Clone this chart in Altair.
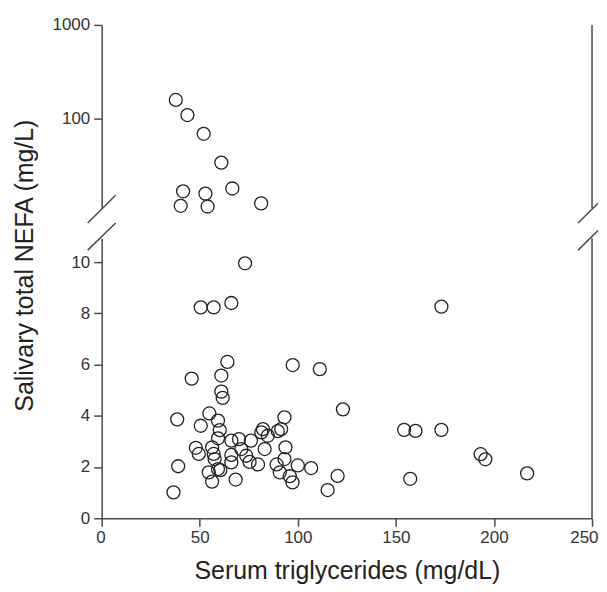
import altair as alt
import pandas as pd

# ---- data ----
top_x = [37.8, 43.7, 52.0, 61.0, 41.5, 40.3, 52.9, 54.0, 66.6, 81.3]
top_y = [158, 109, 68.7, 33.8, 16.7, 11.7, 15.8, 11.5, 17.9, 12.4]

bot_x = [73.1, 50.5, 57.1, 66.1, 173.2, 45.9, 64.1, 61.0, 61.0, 61.7,
         97.4, 111.2, 123.0, 38.5, 54.9, 50.5, 59.3, 60.2, 59.3, 48.0,
         49.5, 39.0, 36.6, 54.6, 56.3, 59.3, 60.5, 56.3, 57.1, 57.6,
         66.1, 70.0, 66.1, 66.1, 68.3, 71.2, 73.7, 75.4, 76.1, 79.7,
         81.4, 82.2, 84.7, 83.1, 89.8, 91.5, 93.2, 93.7, 93.2, 89.2,
         90.8, 95.9, 97.3, 100.0, 106.8, 154.2, 160.0, 173.2, 193.2, 195.6,
         216.9, 157.3, 120.3, 115.2]
bot_y = [9.95, 8.23, 8.23, 8.40, 8.26, 5.45, 6.10, 5.57, 4.94, 4.70,
         5.98, 5.82, 4.25, 3.86, 4.09, 3.61, 3.81, 3.44, 3.12, 2.75,
         2.51, 2.03, 1.01, 1.79, 1.43, 1.92, 1.88, 2.77, 2.51, 2.31,
         3.03, 3.09, 2.47, 2.18, 1.51, 2.70, 2.44, 2.20, 3.03, 2.10,
         3.35, 3.48, 3.22, 2.70, 3.40, 3.48, 3.94, 2.77, 2.31, 2.10,
         1.79, 1.64, 1.40, 2.06, 1.96, 3.45, 3.41, 3.45, 2.50, 2.30,
         1.75, 1.54, 1.65, 1.10]

x_ticks = [0, 50, 100, 150, 200, 250]
y_ticks_bottom = [0, 2, 4, 6, 8, 10]
y_ticks_top = [100, 1000]

# ---- layout / style ----
W = 492
H_TOP = 184
H_BOT = 281
FONT = "Liberation Sans"
AX = "#4a4a4a"
PT = "#222222"

top_df = pd.DataFrame({"tg": top_x, "nefa": top_y})
bot_df = pd.DataFrame({"tg": bot_x, "nefa": bot_y})

xscale = alt.Scale(domain=[0, 250], nice=False, zero=False)

def yaxis(values, fmt=None, **kw):
    args = dict(values=values, grid=False, tickSize=8, tickWidth=1.5, tickColor=AX,
                domainColor=AX, domainWidth=1.5, labelFont=FONT, labelFontSize=17,
                labelColor="#333333", labelPadding=4, labelOverlap=False)
    if fmt:
        args["format"] = fmt
    args.update(kw)
    return alt.Axis(**args)

point_kw = dict(shape="circle", filled=False, size=170, strokeWidth=1.3, color=PT, opacity=1)

top_pts = alt.Chart(top_df).mark_point(**point_kw).encode(
    x=alt.X("tg:Q", scale=xscale, axis=None),
    y=alt.Y("nefa:Q", scale=alt.Scale(type="log", domain=[11, 1000], nice=False),
            axis=yaxis(y_ticks_top, fmt="d", title=None)),
)
one = pd.DataFrame({"a": [0]})
top_right = alt.Chart(one).mark_rule(color=AX, strokeWidth=1.5).encode(
    x=alt.value(W), y=alt.value(0), y2=alt.value(H_TOP))
top = alt.layer(top_pts, top_right).properties(width=W, height=H_TOP)

bot_pts = alt.Chart(bot_df).mark_point(**point_kw).encode(
    x=alt.X("tg:Q", scale=xscale,
            axis=alt.Axis(values=x_ticks, grid=False, tickSize=8, tickWidth=1.5, tickColor=AX,
                          domainColor=AX, domainWidth=1.5, labelFont=FONT, labelFontSize=17,
                          labelColor="#333333", labelPadding=3, labelFlush=True,
                          labelFlushOffset=6, labelOverlap=False,
                          title="Serum triglycerides (mg/dL)", titleFont=FONT,
                          titleFontSize=25, titleFontWeight="normal", titleColor="#222222",
                          titleBaseline="alphabetic", titleY=60)),
    y=alt.Y("nefa:Q", scale=alt.Scale(domain=[0, 10.93], nice=False, zero=False),
            axis=yaxis(y_ticks_bottom, title="Salivary total NEFA (mg/L)", titleFont=FONT,
                       titleFontSize=25, titleFontWeight="normal", titleColor="#222222",
                       titleBaseline="alphabetic", titleX=-69, titleY=27)),
)
bot_right = alt.Chart(one).mark_rule(color=AX, strokeWidth=1.5).encode(
    x=alt.value(W), y=alt.value(0), y2=alt.value(H_BOT))

# axis-break slashes (decoration, pixel offsets in the lower panel);
# the right-hand ones run to the page edge
breaks = pd.DataFrame({
    "x1": [-14, -14, W - 14, W - 14],
    "y1": [-15.3, 12, -15.3, 12],
    "x2": [14, 14, W + 6, W + 6],
    "y2": [-43, -15.3, -35.1, -7.8],
})
brk = alt.Chart(breaks).mark_rule(color=AX, strokeWidth=1.5).encode(
    x=alt.X("x1:Q", scale=None), y=alt.Y("y1:Q", scale=None),
    x2="x2:Q", y2="y2:Q")

bottom = alt.layer(bot_pts, bot_right, brk).properties(width=W, height=H_BOT)

chart = alt.vconcat(top, bottom, spacing=30, bounds="flush").configure_view(
    stroke=None).properties(padding={"left": 4, "top": 7, "right": 0, "bottom": 0})

chart.save("out.html", embed_options={"renderer": "svg", "actions": False})
